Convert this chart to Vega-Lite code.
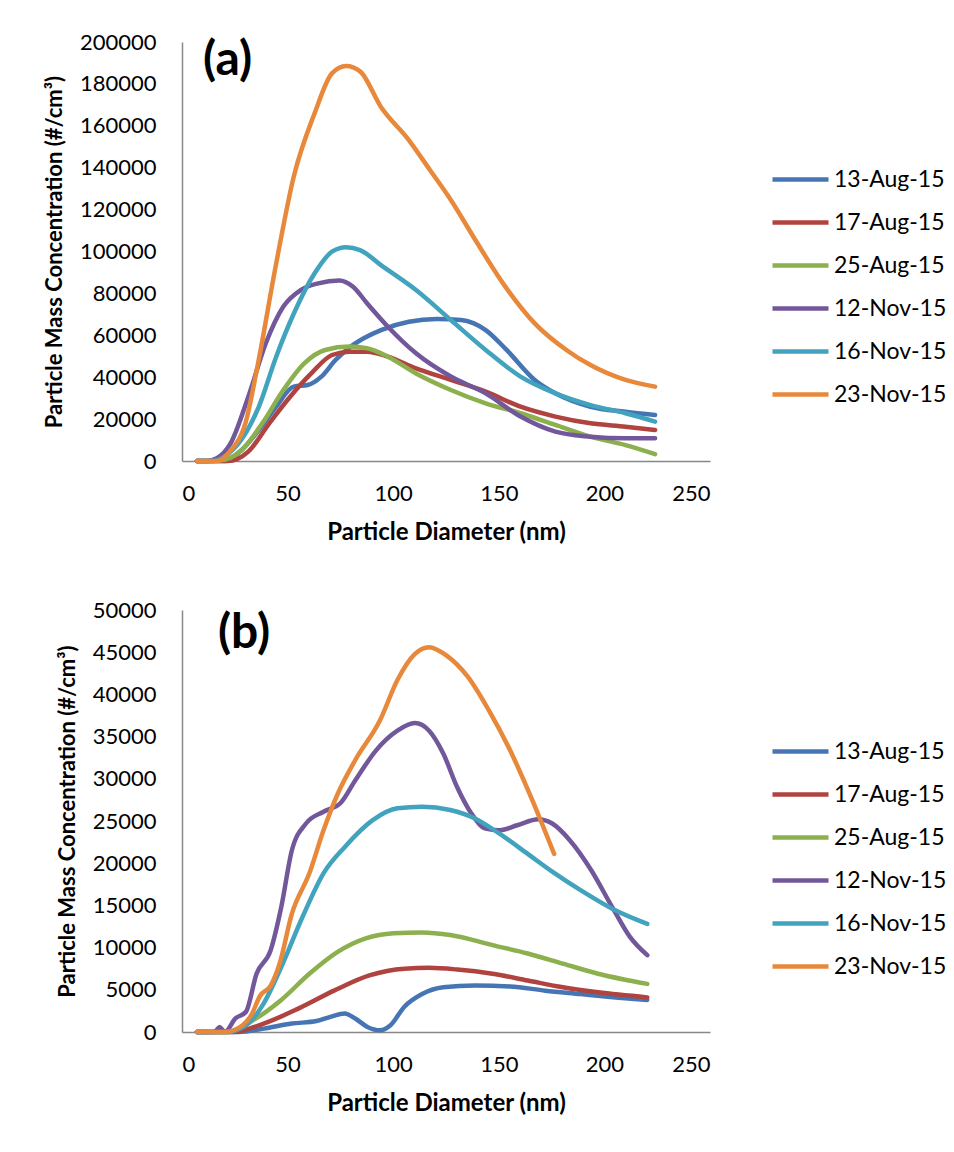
{
  "$schema": "https://vega.github.io/schema/vega-lite/v6.json",
  "padding": {"left": 43, "top": 31, "right": 0, "bottom": 0},
  "background": "white",
  "config": {
    "font": "Lato",
    "view": {"stroke": null},
    "axis": {"grid": false, "ticks": false, "domainColor": "#888888", "domainWidth": 1.5, "labelFont": "Lato", "labelFontSize": 22, "labelColor": "#000000", "titleFont": "Lato", "titleFontWeight": "bold", "titleColor": "#000000"},
    "axisX": {"titleFontSize": 24},
    "axisY": {"titleFontSize": 22},
    "legend": {"labelFont": "Lato", "labelFontSize": 23, "labelColor": "#000000", "symbolType": "stroke", "symbolSize": 3136, "symbolStrokeWidth": 4.5, "rowPadding": -8, "padding": 0, "labelOffset": 3, "title": null}
  },
  "datasets": {
    "a": [
      {"d": 7, "v": 0, "s": "13-Aug-15"}, {"d": 15, "v": 0, "s": "13-Aug-15"}, {"d": 19.8, "v": 0, "s": "13-Aug-15"}, {"d": 28, "v": 5000, "s": "13-Aug-15"}, {"d": 36.4, "v": 14800, "s": "13-Aug-15"}, {"d": 44.6, "v": 26000, "s": "13-Aug-15"}, {"d": 52.9, "v": 35500, "s": "13-Aug-15"}, {"d": 59.5, "v": 36300, "s": "13-Aug-15"}, {"d": 66, "v": 40300, "s": "13-Aug-15"}, {"d": 72.7, "v": 48200, "s": "13-Aug-15"}, {"d": 81, "v": 55400, "s": "13-Aug-15"}, {"d": 94.2, "v": 62500, "s": "13-Aug-15"}, {"d": 107.4, "v": 66500, "s": "13-Aug-15"}, {"d": 120.7, "v": 67800, "s": "13-Aug-15"}, {"d": 132.2, "v": 67300, "s": "13-Aug-15"}, {"d": 143.8, "v": 62500, "s": "13-Aug-15"}, {"d": 153.7, "v": 53000, "s": "13-Aug-15"}, {"d": 167, "v": 38700, "s": "13-Aug-15"}, {"d": 176.8, "v": 32300, "s": "13-Aug-15"}, {"d": 193.4, "v": 25900, "s": "13-Aug-15"}, {"d": 210, "v": 23500, "s": "13-Aug-15"}, {"d": 224, "v": 22000, "s": "13-Aug-15"},
      {"d": 7, "v": 0, "s": "17-Aug-15"}, {"d": 15, "v": 0, "s": "17-Aug-15"}, {"d": 21.5, "v": 0, "s": "17-Aug-15"}, {"d": 31.4, "v": 4500, "s": "17-Aug-15"}, {"d": 41.3, "v": 18000, "s": "17-Aug-15"}, {"d": 51.2, "v": 30700, "s": "17-Aug-15"}, {"d": 61.2, "v": 41800, "s": "17-Aug-15"}, {"d": 71, "v": 50600, "s": "17-Aug-15"}, {"d": 79.3, "v": 52200, "s": "17-Aug-15"}, {"d": 87.6, "v": 52200, "s": "17-Aug-15"}, {"d": 97.5, "v": 49800, "s": "17-Aug-15"}, {"d": 110.8, "v": 44200, "s": "17-Aug-15"}, {"d": 127.3, "v": 38700, "s": "17-Aug-15"}, {"d": 143.8, "v": 33100, "s": "17-Aug-15"}, {"d": 160.3, "v": 25900, "s": "17-Aug-15"}, {"d": 176.8, "v": 21200, "s": "17-Aug-15"}, {"d": 193.4, "v": 18000, "s": "17-Aug-15"}, {"d": 210, "v": 16400, "s": "17-Aug-15"}, {"d": 224, "v": 14800, "s": "17-Aug-15"},
      {"d": 7, "v": 0, "s": "25-Aug-15"}, {"d": 12, "v": 0, "s": "25-Aug-15"}, {"d": 18, "v": 200, "s": "25-Aug-15"}, {"d": 28, "v": 5000, "s": "25-Aug-15"}, {"d": 38, "v": 18000, "s": "25-Aug-15"}, {"d": 48, "v": 33900, "s": "25-Aug-15"}, {"d": 57.9, "v": 46600, "s": "25-Aug-15"}, {"d": 67.8, "v": 53000, "s": "25-Aug-15"}, {"d": 79.3, "v": 54600, "s": "25-Aug-15"}, {"d": 87.6, "v": 53800, "s": "25-Aug-15"}, {"d": 97.5, "v": 49800, "s": "25-Aug-15"}, {"d": 110.8, "v": 41800, "s": "25-Aug-15"}, {"d": 127.3, "v": 33900, "s": "25-Aug-15"}, {"d": 143.8, "v": 27500, "s": "25-Aug-15"}, {"d": 160.3, "v": 22800, "s": "25-Aug-15"}, {"d": 176.8, "v": 17200, "s": "25-Aug-15"}, {"d": 193.4, "v": 11600, "s": "25-Aug-15"}, {"d": 210, "v": 7600, "s": "25-Aug-15"}, {"d": 224, "v": 3300, "s": "25-Aug-15"},
      {"d": 7, "v": 0, "s": "12-Nov-15"}, {"d": 12, "v": 0, "s": "12-Nov-15"}, {"d": 16.5, "v": 1300, "s": "12-Nov-15"}, {"d": 23, "v": 8400, "s": "12-Nov-15"}, {"d": 31.4, "v": 30700, "s": "12-Nov-15"}, {"d": 39.7, "v": 56200, "s": "12-Nov-15"}, {"d": 48, "v": 73700, "s": "12-Nov-15"}, {"d": 56.2, "v": 81600, "s": "12-Nov-15"}, {"d": 64.5, "v": 84800, "s": "12-Nov-15"}, {"d": 74.4, "v": 86200, "s": "12-Nov-15"}, {"d": 81, "v": 83200, "s": "12-Nov-15"}, {"d": 87.6, "v": 75300, "s": "12-Nov-15"}, {"d": 97.5, "v": 64100, "s": "12-Nov-15"}, {"d": 110.8, "v": 51400, "s": "12-Nov-15"}, {"d": 127.3, "v": 40300, "s": "12-Nov-15"}, {"d": 143.8, "v": 32300, "s": "12-Nov-15"}, {"d": 160.3, "v": 21200, "s": "12-Nov-15"}, {"d": 176.8, "v": 14000, "s": "12-Nov-15"}, {"d": 193.4, "v": 11600, "s": "12-Nov-15"}, {"d": 210, "v": 10800, "s": "12-Nov-15"}, {"d": 224, "v": 10800, "s": "12-Nov-15"},
      {"d": 7, "v": 0, "s": "16-Nov-15"}, {"d": 15, "v": 0, "s": "16-Nov-15"}, {"d": 19.8, "v": 2000, "s": "16-Nov-15"}, {"d": 28, "v": 10000, "s": "16-Nov-15"}, {"d": 36.4, "v": 26000, "s": "16-Nov-15"}, {"d": 44.6, "v": 49800, "s": "16-Nov-15"}, {"d": 53, "v": 70500, "s": "16-Nov-15"}, {"d": 62.8, "v": 89600, "s": "16-Nov-15"}, {"d": 71, "v": 99900, "s": "16-Nov-15"}, {"d": 77.7, "v": 102000, "s": "16-Nov-15"}, {"d": 84.3, "v": 100700, "s": "16-Nov-15"}, {"d": 94.2, "v": 93500, "s": "16-Nov-15"}, {"d": 110.8, "v": 81600, "s": "16-Nov-15"}, {"d": 127.3, "v": 67300, "s": "16-Nov-15"}, {"d": 143.8, "v": 53000, "s": "16-Nov-15"}, {"d": 160.3, "v": 40300, "s": "16-Nov-15"}, {"d": 176.8, "v": 32300, "s": "16-Nov-15"}, {"d": 193.4, "v": 26700, "s": "16-Nov-15"}, {"d": 210, "v": 22800, "s": "16-Nov-15"}, {"d": 224, "v": 18800, "s": "16-Nov-15"},
      {"d": 7, "v": 0, "s": "23-Nov-15"}, {"d": 16.5, "v": 0, "s": "23-Nov-15"}, {"d": 23, "v": 5000, "s": "23-Nov-15"}, {"d": 30, "v": 18000, "s": "23-Nov-15"}, {"d": 36, "v": 46600, "s": "23-Nov-15"}, {"d": 44.6, "v": 94300, "s": "23-Nov-15"}, {"d": 52.9, "v": 135700, "s": "23-Nov-15"}, {"d": 62.8, "v": 166000, "s": "23-Nov-15"}, {"d": 71, "v": 185000, "s": "23-Nov-15"}, {"d": 77.7, "v": 188500, "s": "23-Nov-15"}, {"d": 84.3, "v": 186000, "s": "23-Nov-15"}, {"d": 94.2, "v": 169000, "s": "23-Nov-15"}, {"d": 107.4, "v": 153200, "s": "23-Nov-15"}, {"d": 117.4, "v": 138900, "s": "23-Nov-15"}, {"d": 127.3, "v": 124600, "s": "23-Nov-15"}, {"d": 138.9, "v": 105500, "s": "23-Nov-15"}, {"d": 152, "v": 84800, "s": "23-Nov-15"}, {"d": 167, "v": 65700, "s": "23-Nov-15"}, {"d": 182, "v": 53000, "s": "23-Nov-15"}, {"d": 193.4, "v": 45800, "s": "23-Nov-15"}, {"d": 210, "v": 38700, "s": "23-Nov-15"}, {"d": 224, "v": 35500, "s": "23-Nov-15"}
    ],
    "b": [
      {"d": 7, "v": 0, "s": "13-Aug-15"}, {"d": 20, "v": 0, "s": "13-Aug-15"}, {"d": 27, "v": 0, "s": "13-Aug-15"}, {"d": 38.7, "v": 400, "s": "13-Aug-15"}, {"d": 52, "v": 1000, "s": "13-Aug-15"}, {"d": 63.7, "v": 1300, "s": "13-Aug-15"}, {"d": 70.3, "v": 1800, "s": "13-Aug-15"}, {"d": 77, "v": 2200, "s": "13-Aug-15"}, {"d": 82, "v": 1600, "s": "13-Aug-15"}, {"d": 87.8, "v": 600, "s": "13-Aug-15"}, {"d": 93.7, "v": 200, "s": "13-Aug-15"}, {"d": 98.7, "v": 800, "s": "13-Aug-15"}, {"d": 105.3, "v": 3000, "s": "13-Aug-15"}, {"d": 113.7, "v": 4500, "s": "13-Aug-15"}, {"d": 123.7, "v": 5300, "s": "13-Aug-15"}, {"d": 138.7, "v": 5500, "s": "13-Aug-15"}, {"d": 155.3, "v": 5400, "s": "13-Aug-15"}, {"d": 172, "v": 4900, "s": "13-Aug-15"}, {"d": 188.7, "v": 4500, "s": "13-Aug-15"}, {"d": 205.3, "v": 4100, "s": "13-Aug-15"}, {"d": 220.3, "v": 3800, "s": "13-Aug-15"},
      {"d": 7, "v": 0, "s": "17-Aug-15"}, {"d": 15, "v": 0, "s": "17-Aug-15"}, {"d": 23.7, "v": 0, "s": "17-Aug-15"}, {"d": 38.7, "v": 1000, "s": "17-Aug-15"}, {"d": 55.3, "v": 2800, "s": "17-Aug-15"}, {"d": 72, "v": 4900, "s": "17-Aug-15"}, {"d": 88.7, "v": 6700, "s": "17-Aug-15"}, {"d": 105.3, "v": 7500, "s": "17-Aug-15"}, {"d": 117, "v": 7600, "s": "17-Aug-15"}, {"d": 130.3, "v": 7400, "s": "17-Aug-15"}, {"d": 147, "v": 6900, "s": "17-Aug-15"}, {"d": 163.7, "v": 6100, "s": "17-Aug-15"}, {"d": 180.3, "v": 5300, "s": "17-Aug-15"}, {"d": 197, "v": 4700, "s": "17-Aug-15"}, {"d": 220.3, "v": 4100, "s": "17-Aug-15"},
      {"d": 7, "v": 0, "s": "25-Aug-15"}, {"d": 15, "v": 0, "s": "25-Aug-15"}, {"d": 22, "v": 0, "s": "25-Aug-15"}, {"d": 33.7, "v": 1400, "s": "25-Aug-15"}, {"d": 47, "v": 3800, "s": "25-Aug-15"}, {"d": 60.3, "v": 6900, "s": "25-Aug-15"}, {"d": 73.7, "v": 9500, "s": "25-Aug-15"}, {"d": 87, "v": 11100, "s": "25-Aug-15"}, {"d": 100.3, "v": 11700, "s": "25-Aug-15"}, {"d": 113.7, "v": 11800, "s": "25-Aug-15"}, {"d": 127, "v": 11500, "s": "25-Aug-15"}, {"d": 147, "v": 10300, "s": "25-Aug-15"}, {"d": 163.7, "v": 9300, "s": "25-Aug-15"}, {"d": 180.3, "v": 8100, "s": "25-Aug-15"}, {"d": 197, "v": 6900, "s": "25-Aug-15"}, {"d": 220.3, "v": 5700, "s": "25-Aug-15"},
      {"d": 7, "v": 0, "s": "12-Nov-15"}, {"d": 15.3, "v": 0, "s": "12-Nov-15"}, {"d": 17.8, "v": 600, "s": "12-Nov-15"}, {"d": 20.3, "v": 0, "s": "12-Nov-15"}, {"d": 25.3, "v": 1600, "s": "12-Nov-15"}, {"d": 30.3, "v": 2400, "s": "12-Nov-15"}, {"d": 35.3, "v": 6900, "s": "12-Nov-15"}, {"d": 42, "v": 9700, "s": "12-Nov-15"}, {"d": 47, "v": 14800, "s": "12-Nov-15"}, {"d": 52, "v": 21500, "s": "12-Nov-15"}, {"d": 58.7, "v": 24700, "s": "12-Nov-15"}, {"d": 67, "v": 26100, "s": "12-Nov-15"}, {"d": 75.3, "v": 27200, "s": "12-Nov-15"}, {"d": 82, "v": 29800, "s": "12-Nov-15"}, {"d": 92, "v": 33400, "s": "12-Nov-15"}, {"d": 102, "v": 35700, "s": "12-Nov-15"}, {"d": 110.3, "v": 36600, "s": "12-Nov-15"}, {"d": 117, "v": 35700, "s": "12-Nov-15"}, {"d": 123.7, "v": 33000, "s": "12-Nov-15"}, {"d": 130.3, "v": 29000, "s": "12-Nov-15"}, {"d": 137, "v": 25900, "s": "12-Nov-15"}, {"d": 143.7, "v": 24100, "s": "12-Nov-15"}, {"d": 150.3, "v": 23900, "s": "12-Nov-15"}, {"d": 158.7, "v": 24500, "s": "12-Nov-15"}, {"d": 168.7, "v": 25200, "s": "12-Nov-15"}, {"d": 175.3, "v": 24700, "s": "12-Nov-15"}, {"d": 183.7, "v": 22700, "s": "12-Nov-15"}, {"d": 193.7, "v": 19200, "s": "12-Nov-15"}, {"d": 203.7, "v": 14800, "s": "12-Nov-15"}, {"d": 212, "v": 11300, "s": "12-Nov-15"}, {"d": 220.3, "v": 9100, "s": "12-Nov-15"},
      {"d": 7, "v": 0, "s": "16-Nov-15"}, {"d": 15, "v": 0, "s": "16-Nov-15"}, {"d": 20.3, "v": 0, "s": "16-Nov-15"}, {"d": 30.3, "v": 800, "s": "16-Nov-15"}, {"d": 38.7, "v": 3400, "s": "16-Nov-15"}, {"d": 47, "v": 7700, "s": "16-Nov-15"}, {"d": 57, "v": 13600, "s": "16-Nov-15"}, {"d": 67, "v": 18800, "s": "16-Nov-15"}, {"d": 77, "v": 21900, "s": "16-Nov-15"}, {"d": 90.3, "v": 25100, "s": "16-Nov-15"}, {"d": 102, "v": 26500, "s": "16-Nov-15"}, {"d": 113.7, "v": 26700, "s": "16-Nov-15"}, {"d": 127, "v": 26300, "s": "16-Nov-15"}, {"d": 138.7, "v": 25300, "s": "16-Nov-15"}, {"d": 150.3, "v": 23500, "s": "16-Nov-15"}, {"d": 163.7, "v": 21100, "s": "16-Nov-15"}, {"d": 175.3, "v": 19000, "s": "16-Nov-15"}, {"d": 188.7, "v": 16800, "s": "16-Nov-15"}, {"d": 203.7, "v": 14600, "s": "16-Nov-15"}, {"d": 220.3, "v": 12800, "s": "16-Nov-15"},
      {"d": 7, "v": 0, "s": "23-Nov-15"}, {"d": 20.3, "v": 0, "s": "23-Nov-15"}, {"d": 28.7, "v": 800, "s": "23-Nov-15"}, {"d": 32.8, "v": 2000, "s": "23-Nov-15"}, {"d": 37, "v": 4300, "s": "23-Nov-15"}, {"d": 42, "v": 5500, "s": "23-Nov-15"}, {"d": 46.2, "v": 8100, "s": "23-Nov-15"}, {"d": 52, "v": 14000, "s": "23-Nov-15"}, {"d": 60.3, "v": 18800, "s": "23-Nov-15"}, {"d": 67, "v": 23900, "s": "23-Nov-15"}, {"d": 73.7, "v": 28200, "s": "23-Nov-15"}, {"d": 82, "v": 32200, "s": "23-Nov-15"}, {"d": 93.7, "v": 36900, "s": "23-Nov-15"}, {"d": 102, "v": 41700, "s": "23-Nov-15"}, {"d": 110.3, "v": 44800, "s": "23-Nov-15"}, {"d": 117, "v": 45600, "s": "23-Nov-15"}, {"d": 125.3, "v": 44600, "s": "23-Nov-15"}, {"d": 135.3, "v": 42100, "s": "23-Nov-15"}, {"d": 145.3, "v": 38100, "s": "23-Nov-15"}, {"d": 155.3, "v": 33400, "s": "23-Nov-15"}, {"d": 165.3, "v": 27800, "s": "23-Nov-15"}, {"d": 176.2, "v": 21100, "s": "23-Nov-15"}
    ]
  },
  "columns": 1,
  "concat": [
    {
      "width": 528,
      "height": 419,
      "layer": [
        {
          "data": {"name": "a"},
          "mark": {"type": "line", "interpolate": "monotone", "strokeWidth": 4.5, "strokeCap": "round", "strokeJoin": "round"},
          "encoding": {
            "x": {"field": "d", "type": "quantitative", "scale": {"domain": [0, 250], "nice": false}, "axis": {"values": [0, 50, 100, 150, 200, 250], "title": "Particle Diameter (nm)", "labelPadding": 22, "titlePadding": 16}},
            "y": {"field": "v", "type": "quantitative", "scale": {"domain": [0, 200000], "nice": false}, "axis": {"values": [0, 20000, 40000, 60000, 80000, 100000, 120000, 140000, 160000, 180000, 200000], "format": "d", "title": "Particle Mass Concentration (#/cm³)", "labelPadding": 26, "titlePadding": 13}},
            "color": {"field": "s", "type": "nominal", "scale": {"domain": ["13-Aug-15", "17-Aug-15", "25-Aug-15", "12-Nov-15", "16-Nov-15", "23-Nov-15"], "range": ["#4675B3", "#B0433F", "#8DB04E", "#72589A", "#41A3BE", "#E8883A"]}, "legend": {"orient": "none", "legendX": 588, "legendY": 107}}
          }
        },
        {
          "data": {"values": [{"t": "(a)"}]},
          "mark": {"type": "text", "align": "left", "baseline": "middle", "fontSize": 48, "fontWeight": "bold", "font": "Lato"},
          "encoding": {"x": {"datum": 10}, "y": {"datum": 191000}, "text": {"field": "t"}}
        }
      ]
    },
    {
      "width": 528,
      "height": 422,
      "layer": [
        {
          "data": {"name": "b"},
          "mark": {"type": "line", "interpolate": "monotone", "strokeWidth": 4.5, "strokeCap": "round", "strokeJoin": "round"},
          "encoding": {
            "x": {"field": "d", "type": "quantitative", "scale": {"domain": [0, 250], "nice": false}, "axis": {"values": [0, 50, 100, 150, 200, 250], "title": "Particle Diameter (nm)", "labelPadding": 22, "titlePadding": 16}},
            "y": {"field": "v", "type": "quantitative", "scale": {"domain": [0, 50000], "nice": false}, "axis": {"values": [0, 5000, 10000, 15000, 20000, 25000, 30000, 35000, 40000, 45000, 50000], "format": "d", "title": "Particle Mass Concentration (#/cm³)", "labelPadding": 26, "titlePadding": 13}},
            "color": {"field": "s", "type": "nominal", "scale": {"domain": ["13-Aug-15", "17-Aug-15", "25-Aug-15", "12-Nov-15", "16-Nov-15", "23-Nov-15"], "range": ["#4675B3", "#B0433F", "#8DB04E", "#72589A", "#41A3BE", "#E8883A"]}, "legend": {"orient": "none", "legendX": 588, "legendY": 111}}
          }
        },
        {
          "data": {"values": [{"t": "(b)"}]},
          "mark": {"type": "text", "align": "left", "baseline": "middle", "fontSize": 48, "fontWeight": "bold", "font": "Lato"},
          "encoding": {"x": {"datum": 17}, "y": {"datum": 47160}, "text": {"field": "t"}}
        }
      ]
    }
  ],
  "spacing": 55,
  "align": "none",
  "resolve": {"scale": {"color": "independent", "x": "independent", "y": "independent"}, "legend": {"color": "independent"}}
}
